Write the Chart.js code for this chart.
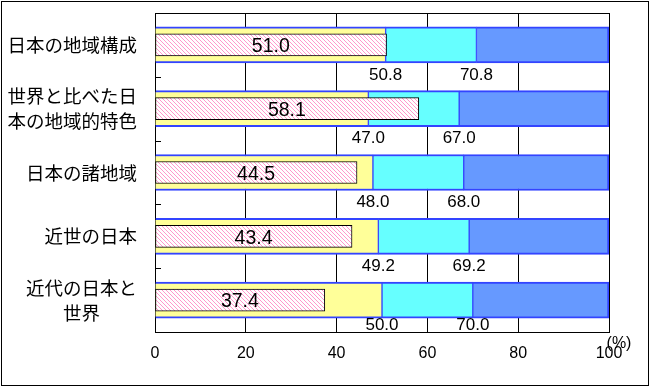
<!DOCTYPE html>
<html>
<head>
<meta charset="utf-8">
<script src="https://cdn.jsdelivr.net/npm/chart.js@4/dist/chart.umd.min.js"></script>
<style>
  body { margin: 0; background: #fff; }
  canvas { display: block; }
</style>
</head>
<body>
<canvas id="chart" width="653" height="387"></canvas>
<script>
// categories (multi-line labels as arrays)
const categories = [
    ['日本の地域構成'],
    ['世界と比べた日', '本の地域的特色'],
    ['日本の諸地域'],
    ['近世の日本'],
    ['近代の日本と', '世界']
];
// hatched bar values
const hatchedValues = [51.0, 58.1, 44.5, 43.4, 37.4];
// stacked segments
const yellowValues = [50.8, 47.0, 48.0, 49.2, 50.0];
const cyanValues = [20.0, 20.0, 20.0, 20.0, 20.0];
const blueValues = [29.2, 33.0, 32.0, 30.8, 30.0];
const xTicks = [0, 20, 40, 60, 80, 100];

const numFont = "'Liberation Sans', Arial, sans-serif";
const jpFont = "'Noto Sans CJK JP', sans-serif";

// diagonal pink hatch
function makeHatch() {
    const c = document.createElement('canvas');
    c.width = 4; c.height = 4;
    const g = c.getContext('2d');
    g.fillStyle = '#ffffff';
    g.fillRect(0, 0, 4, 4);
    g.fillStyle = '#ff99cc';
    for (let i = 0; i < 4; i++) g.fillRect(i, i, 1, 1);
    return g.createPattern(c, 'repeat');
}
const ctx = document.getElementById('chart').getContext('2d');
const hatch = makeHatch();

// pad short lines with full-width spaces so multi-line labels look centred
function padLabel(lines) {
    const max = Math.max(...lines.map(l => l.length));
    return lines.map(l => l + '\u3000'.repeat(Math.floor((max - l.length) / 2)));
}

const framePlugin = {
    id: 'frame',
    beforeDatasetsDraw(chart) {
        const a = chart.chartArea;
        const c = chart.ctx;
        c.save();
        c.strokeStyle = '#000';
        c.lineWidth = 1;
        c.strokeRect(Math.round(a.left) + 0.5, Math.round(a.top) + 0.5,
            Math.round(a.right - a.left), Math.round(a.bottom - a.top));
        // small inner ticks between categories
        const y = chart.scales.y;
        for (let i = 1; i < categories.length; i++) {
            const py = Math.round((y.getPixelForValue(i - 1) + y.getPixelForValue(i)) / 2) + 0.5;
            c.beginPath();
            c.moveTo(a.left, py);
            c.lineTo(a.left + 6, py);
            c.stroke();
        }
        c.restore();
    },
    afterDraw(chart) {
        const c = chart.ctx;
        const a = chart.chartArea;
        const x = chart.scales.x;
        const y = chart.scales.y;
        c.save();
        c.fillStyle = '#000';
        c.textAlign = 'center';
        c.textBaseline = 'middle';
        // values inside hatched bars
        c.font = '19.5px ' + numFont;
        hatchedValues.forEach((v, i) => {
            const px = (x.getPixelForValue(0) + x.getPixelForValue(v)) / 2;
            c.fillText(v.toFixed(1), px, y.getPixelForValue(i) + 2);
        });
        // cumulative boundaries under each bar
        c.font = '17px ' + numFont;
        yellowValues.forEach((v, i) => {
            const ly = Math.min(y.getPixelForValue(i) + 30, a.bottom - 7);
            [v, v + cyanValues[i]].forEach(b => {
                c.fillText(b.toFixed(1), x.getPixelForValue(b), ly);
            });
        });
        // unit
        c.font = '16px ' + numFont;
        c.fillText('(%)', 619, 344);
        // outer border
        c.strokeStyle = '#000';
        c.lineWidth = 1;
        c.strokeRect(1.5, 1.5, 647, 384);
        c.restore();
    }
};

const segBorder = '#3344ff';

new Chart(ctx, {
    type: 'bar',
    data: {
        labels: categories,
        datasets: [
            {
                data: yellowValues,
                stack: 'seg',
                backgroundColor: '#ffff99',
                borderColor: segBorder,
                borderWidth: { top: 2, bottom: 2, left: 0, right: 1 },
                order: 1
            },
            {
                data: cyanValues,
                stack: 'seg',
                backgroundColor: '#66ffff',
                borderColor: segBorder,
                borderWidth: { top: 2, bottom: 2, left: 1, right: 1 },
                order: 1
            },
            {
                data: blueValues,
                stack: 'seg',
                backgroundColor: '#6699ff',
                borderColor: segBorder,
                borderWidth: { top: 2, bottom: 2, left: 1, right: 2 },
                order: 1
            },
            {
                data: hatchedValues,
                stack: 'hatch',
                backgroundColor: hatch,
                borderColor: '#000',
                borderWidth: 1,
                barThickness: 22,
                order: 0
            }
        ]
    },
    options: {
        indexAxis: 'y',
        responsive: false,
        animation: false,
        devicePixelRatio: 1,
        layout: { padding: { left: 0, top: 13, right: 44, bottom: 0 } },
        datasets: {
            bar: { grouped: false, borderSkipped: false, barThickness: 36 }
        },
        plugins: {
            legend: { display: false },
            tooltip: { enabled: false }
        },
        scales: {
            x: {
                stacked: true,
                min: 0,
                max: 100,
                afterBuildTicks(scale) {
                    scale.ticks = xTicks.map(v => ({ value: v }));
                },
                afterFit(scale) {
                    scale.height = 55;
                    scale.paddingLeft = 0;
                    scale.paddingRight = 0;
                },
                grid: { color: '#000', lineWidth: 1, drawTicks: false },
                border: { display: true, color: '#000' },
                ticks: {
                    color: '#000',
                    padding: 12,
                    maxRotation: 0,
                    font: { family: numFont, size: 16 }
                }
            },
            y: {
                stacked: true,
                offset: true,
                afterFit(scale) {
                    scale.width = 155;
                    scale.paddingTop = 0;
                    scale.paddingBottom = 0;
                },
                grid: { display: false, drawTicks: false },
                border: { display: false },
                ticks: {
                    color: '#000',
                    padding: 18,
                    font: { family: jpFont, size: 18.5, lineHeight: 1.35 },
                    callback(value, index) { return padLabel(categories[index]); }
                }
            }
        }
    },
    plugins: [framePlugin]
});
</script>
</body>
</html>
